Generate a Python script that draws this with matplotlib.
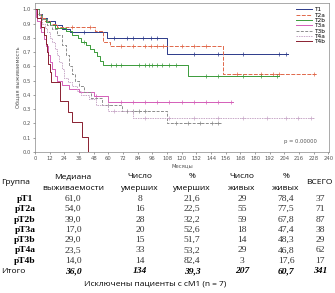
import matplotlib
matplotlib.use("Agg")
import matplotlib.pyplot as plt
import numpy as np

# ---- survival curves (months, survival) ----
t1_t = [0, 3, 6, 10, 16, 22, 29, 59, 108, 207]
t1_s = [1.0, 0.97, 0.94, 0.92, 0.89, 0.86, 0.84, 0.80, 0.69, 0.69]
t1_c = [40, 65, 75, 80, 88, 95, 100, 130, 150, 170, 200, 205]

t2a_t = [0, 2, 5, 8, 12, 18, 25, 49, 56, 61, 154, 230]
t2a_s = [1.0, 0.97, 0.94, 0.92, 0.90, 0.88, 0.875, 0.85, 0.77, 0.74, 0.55, 0.55]
t2a_c = [30, 45, 70, 80, 90, 95, 100, 105, 120, 130, 140, 165, 185, 195, 200, 228]

t2b_t = [0, 3, 6, 9, 12, 16, 25, 30, 35, 38, 42, 45, 48, 51, 53, 56, 125, 200]
t2b_s = [1.0, 0.96, 0.93, 0.91, 0.89, 0.87, 0.85, 0.82, 0.80, 0.77, 0.75, 0.72, 0.70, 0.67, 0.64, 0.61, 0.53, 0.53]
t2b_c = [40, 62, 66, 70, 85, 90, 93, 96, 100, 104, 110, 115, 140, 150, 170, 185, 198]

t3a_t = [0, 1, 2, 4, 5, 7, 9, 11, 12, 14, 16, 18, 22, 28, 36, 48, 60, 162]
t3a_s = [1.0, 0.95, 0.92, 0.87, 0.84, 0.79, 0.74, 0.68, 0.63, 0.58, 0.53, 0.50, 0.47, 0.44, 0.42, 0.39, 0.35, 0.35]
t3a_c = [50, 70, 80, 90, 100, 110, 120, 130, 140, 150, 160]

t3b_t = [0, 3, 6, 10, 14, 18, 22, 25, 28, 30, 33, 36, 40, 46, 55, 71, 108, 152]
t3b_s = [1.0, 0.96, 0.93, 0.89, 0.86, 0.82, 0.75, 0.68, 0.60, 0.55, 0.50, 0.46, 0.42, 0.38, 0.33, 0.29, 0.20, 0.20]
t3b_c = [60, 75, 80, 85, 90, 115, 125, 135, 145, 150]

t4a_t = [0, 2, 4, 6, 8, 10, 12, 14, 16, 18, 20, 22, 24, 27, 30, 34, 38, 44, 50, 60, 80, 228]
t4a_s = [1.0, 0.97, 0.94, 0.90, 0.87, 0.84, 0.80, 0.77, 0.72, 0.68, 0.63, 0.58, 0.52, 0.49, 0.46, 0.43, 0.40, 0.37, 0.33, 0.29, 0.24, 0.24]
t4a_c = [65, 90, 110, 130, 150, 170, 190, 205, 215, 226]

t4b_t = [0, 2, 5, 7, 9, 10, 11, 12, 13, 20.5, 27, 30, 38.5, 43.5]
t4b_s = [1.0, 0.94, 0.88, 0.82, 0.76, 0.70, 0.62, 0.56, 0.49, 0.36, 0.28, 0.21, 0.105, 0.0]
t4b_c = []

labels = ["T1", "T2a", "T2b", "T3a", "T3b", "T4a", "T4b"]

# ---- table ----
groups = ["pT1", "pT2a", "pT2b", "pT3a", "pT3b", "pT4a", "pT4b"]
median = ["61,0", "54,0", "39,0", "17,0", "29,0", "23,5", "14,0"]
deaths = ["8", "16", "28", "20", "15", "33", "14"]
pct_dead = ["21,6", "22,5", "32,2", "52,6", "51,7", "53,2", "82,4"]
alive = ["29", "55", "59", "18", "14", "29", "3"]
pct_alive = ["78,4", "77,5", "67,8", "47,4", "48,3", "46,8", "17,6"]
total = ["37", "71", "87", "38", "29", "62", "17"]
totals = ["36,0", "134", "39,3", "207", "60,7", "341"]

W, H = 335, 293
fig = plt.figure(figsize=(W / 100, H / 100), dpi=100)
ax = fig.add_axes([35 / W, 1 - 152 / H, (329 - 35) / W, (152 - 3) / H])

series = [
    (t1_t, t1_s, t1_c, "#2c3a8a", "-"),
    (t2a_t, t2a_s, t2a_c, "#e0684a", (0, (4, 1.5))),
    (t2b_t, t2b_s, t2b_c, "#3a9a3a", "-"),
    (t3a_t, t3a_s, t3a_c, "#d45fb8", "-"),
    (t3b_t, t3b_s, t3b_c, "#8c8c8c", (0, (3, 1.5))),
    (t4a_t, t4a_s, t4a_c, "#c8a8c8", (0, (1.5, 1))),
    (t4b_t, t4b_s, t4b_c, "#8a2030", "-"),
]
for (tt, ss, cc, col, ls), lab in zip(series, labels):
    ax.step(tt, ss, where="post", color=col, lw=0.7, ls=ls, label=lab)
    if cc:
        idx = np.searchsorted(tt, cc, side="right") - 1
        yv = np.array(ss)[idx]
        ax.plot(cc, yv, ls="none", marker="+", ms=2.5, mew=0.5, color=col)

ax.set_xlim(0, 240.5)
ax.set_ylim(0, 1.045)
ax.set_xticks(np.arange(0, 241, 12))
ax.set_yticks(np.arange(0, 1.01, 0.1))
ax.set_yticklabels([f"{v:.1f}" for v in np.arange(0, 1.01, 0.1)])
ax.tick_params(labelsize=3.8, length=1.5, width=0.4, colors="#555555", pad=1.2)
for sp in ax.spines.values():
    sp.set_linewidth(0.5)
    sp.set_color("#888888")
ax.set_xlabel("Месяцы", fontsize=3.8, labelpad=1.5, color="#555555")
ax.set_ylabel("Общая выживаемость", fontsize=3.8, labelpad=2, color="#555555")
ax.text(217, 0.075, "p = 0.00000", fontsize=3.8, ha="center", va="center", color="#555555")
leg = ax.legend(loc="upper right", fontsize=4.2, frameon=False, handlelength=2.6,
                labelspacing=0.05, borderaxespad=0.3, handletextpad=0.4)

def fy(y):
    return 1 - y / H

def fx(x):
    return x / W

sans = "Open Sans"
serif = "Liberation Serif"
hs = 6.0
vs = 6.8
row0 = 199
dr = 10.3

fig.text(fx(1), fy(183), "Группа", fontsize=hs, family=sans, ha="left", va="center")
hdr = [(73, "Медиана", "выживаемости"), (140, "Число", "умерших"), (192, "%", "умерших"),
       (242, "Число", "живых"), (286, "%", "живых")]
for x, a, b in hdr:
    fig.text(fx(x), fy(177), a, fontsize=hs, family=sans, ha="center", va="center")
    fig.text(fx(x), fy(188), b, fontsize=hs, family=sans, ha="center", va="center")
fig.text(fx(319), fy(183), "ВСЕГО", fontsize=hs, family=sans, ha="center", va="center")

cols_x = [73, 140, 192, 242, 286, 320]
for i in range(len(groups)):
    y = fy(row0 + dr * i)
    fig.text(fx(25), y, groups[i], fontsize=vs, family=serif, weight="bold", ha="center", va="center")
    for x, v in zip(cols_x, [median[i], deaths[i], pct_dead[i], alive[i], pct_alive[i], total[i]]):
        fig.text(fx(x), y, v, fontsize=vs, family=serif, ha="center", va="center", color="#333333")
y = fy(row0 + dr * 7)
fig.text(fx(1), y, "Итого", fontsize=hs, family=sans, ha="left", va="center")
for x, v in zip(cols_x, totals):
    fig.text(fx(x), y, v, fontsize=vs, family=serif, weight="bold", style="italic", ha="center", va="center")
fig.text(fx(155), fy(284), "Исключены пациенты с сМ1 (n = 7)", fontsize=hs, family=sans,
         ha="center", va="center")

fig.savefig("out.png", dpi=100)
